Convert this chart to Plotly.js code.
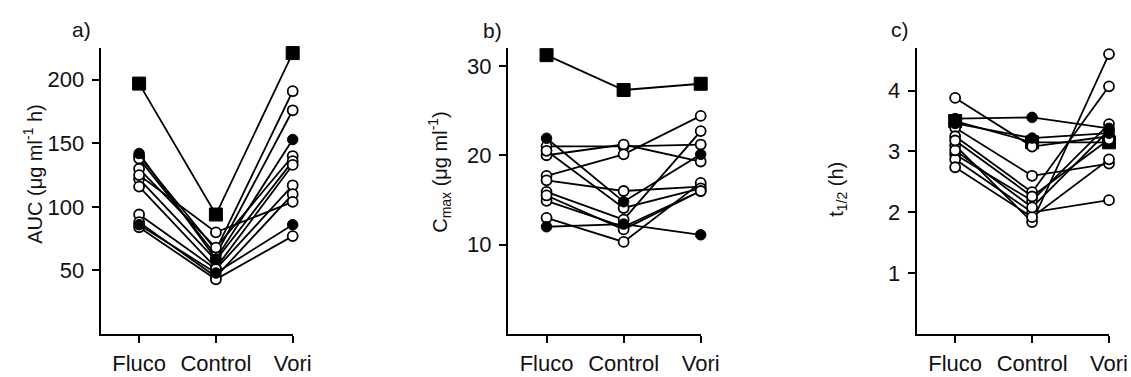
<!DOCTYPE html>
<html>
<head>
<meta charset="utf-8">
<script src="https://cdn.plot.ly/plotly-3.0.1.min.js"></script>
<style>html,body{margin:0;padding:0;background:#fff;}#chart{width:1131px;height:377px;}</style>
</head>
<body>
<div id="chart"></div>
<script>
// Categories (x order: Fluco, Control, Vori)
const categories = ['Fluco', 'Control', 'Vori'];

// a) AUC (µg ml-1 h)
const aucSquare = [[197, 94, 221]];
const aucFilled = [[142, 59, 153], [86, 48, 86]];
const aucOpen = [
  [140, 66, 191], [138, 62, 176], [130, 68, 140], [122, 58, 136], [116, 52, 133],
  [94, 51, 117], [88, 45, 110], [125, 80, 104], [84, 43, 77]
];

// b) Cmax (µg ml-1)
const cmaxSquare = [[31.2, 27.3, 28.0]];
const cmaxFilled = [[21.9, 14.8, 20.1], [12.0, 12.3, 11.1]];
const cmaxOpen = [
  [21.0, 21.0, 21.2], [20.0, 21.2, 19.3], [17.7, 20.1, 24.4], [17.2, 16.0, 16.5],
  [15.9, 12.8, 22.7], [14.9, 12.0, 16.0], [13.0, 10.3, 16.9], [20.5, 14.1, 16.3], [15.5, 11.7, 16.0]
];

// c) t1/2 (h)
const thalfSquare = [[3.50, 3.15, 3.15]];
const thalfFilled = [[3.54, 3.56, 3.38], [3.46, 3.22, 3.30]];
const thalfOpen = [
  [3.88, 3.08, 3.25], [3.39, 2.60, 2.80], [3.25, 2.33, 4.07], [3.10, 1.84, 4.60],
  [2.95, 2.19, 3.45], [2.87, 2.00, 2.20], [2.74, 1.92, 2.87], [3.02, 2.08, 3.35], [3.18, 2.26, 3.20]
];

// Axis tick values
const aucTicks = [50, 100, 150, 200];
const cmaxTicks = [10, 20, 30];
const thalfTicks = [1, 2, 3, 4];

const xIdx = categories.map((c, i) => i);
const FONT = 'Arial, "Liberation Sans", Helvetica, sans-serif';

const styles = {
  square: {symbol: 'square', size: 13, color: '#000', line: {color: '#000', width: 1}},
  open:   {symbol: 'circle', size: 10, color: '#fff', line: {color: '#000', width: 1.8}},
  filled: {symbol: 'circle', size: 10.5, color: '#000', line: {color: '#000', width: 1}}
};

const traces = [];
function addGroup(series, kind, xa, ya) {
  series.forEach(vals => {
    traces.push({
      type: 'scatter', mode: 'lines+markers',
      x: xIdx, y: vals, xaxis: xa, yaxis: ya,
      line: {color: '#000', width: 1.8},
      marker: styles[kind],
      cliponaxis: false, showlegend: false, hoverinfo: 'skip'
    });
  });
}
[[aucSquare, aucOpen, aucFilled, 'x', 'y'],
 [cmaxSquare, cmaxOpen, cmaxFilled, 'x2', 'y2'],
 [thalfSquare, thalfOpen, thalfFilled, 'x3', 'y3']].forEach(p => {
  addGroup(p[0], 'square', p[3], p[4]);
  addGroup(p[1], 'open', p[3], p[4]);
  addGroup(p[2], 'filled', p[3], p[4]);
});

const W = 1131, T = 48, B = 334.5, PH = B - T;
const py = px => (B - px) / PH;

function xax(l, r, anchor) {
  return {
    domain: [l / W, r / W], anchor: anchor, range: [-0.5, 2],
    tickvals: xIdx, ticktext: categories,
    showline: true, linecolor: '#000', linewidth: 2,
    ticks: 'outside', ticklen: 7, tickwidth: 2, tickcolor: '#000',
    ticklabelstandoff: 2,
    showgrid: false, zeroline: false, fixedrange: true,
    tickfont: {family: FONT, size: 22, color: '#111'}
  };
}
function yax(range, ticks, anchor) {
  return {
    anchor: anchor, range: range, tickvals: ticks,
    showline: true, linecolor: '#000', linewidth: 2,
    ticks: 'outside', ticklen: 7, tickwidth: 2, tickcolor: '#000',
    ticklabelstandoff: 3,
    showgrid: false, zeroline: false, fixedrange: true,
    tickfont: {family: FONT, size: 22, color: '#111'}
  };
}

const titleFont = {family: FONT, size: 20, color: '#111'};
const labelFont = {family: FONT, size: 21, color: '#111'};
function ann(text, xpx, ypx, font, angle) {
  return {text: text, x: xpx / W, y: py(ypx), xref: 'paper', yref: 'paper',
          showarrow: false, xanchor: 'center', yanchor: 'middle', font: font, textangle: angle || 0};
}
const layout = {
  width: 1131, height: 377,
  margin: {l: 0, r: 0, t: T, b: 377 - B},
  paper_bgcolor: '#fff', plot_bgcolor: '#fff',
  showlegend: false,
  xaxis: xax(100.7, 292.7, 'y'),
  yaxis: yax([0, 225], aucTicks, 'x'),
  xaxis2: xax(508, 700.7, 'y2'),
  yaxis2: yax([0, 32], cmaxTicks, 'x2'),
  xaxis3: xax(916.7, 1109, 'y3'),
  yaxis3: yax([0, 4.7], thalfTicks, 'x3'),
  annotations: [
    ann('a)', 81, 29, labelFont),
    ann('b)', 492, 30, labelFont),
    ann('c)', 900, 29, labelFont),
    ann('AUC (μg ml<sup>-1</sup> h)', 33, 174, titleFont, -90),
    ann('C<sub>max</sub> (μg ml<sup>-1</sup>)', 440, 172, titleFont, -90),
    ann('t<sub>1/2</sub> (h)', 838, 190, titleFont, -90)
  ]
};

Plotly.newPlot('chart', traces, layout, {displayModeBar: false, staticPlot: true});
</script>
</body>
</html>
